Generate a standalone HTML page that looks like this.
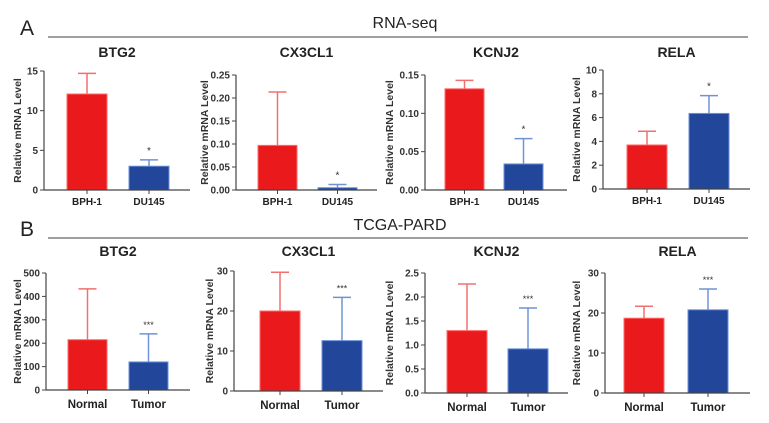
<!DOCTYPE html>
<html><head><meta charset="utf-8"><style>
body{margin:0;background:#fff;}
svg{display:block;font-family:"Liberation Sans",Arial,sans-serif;}
</style></head><body>
<svg id="fig" width="769" height="423" viewBox="0 0 769 423">
<text x="20" y="35" font-size="21" fill="#222">A</text>
<line x1="48" y1="37" x2="748" y2="37" stroke="#666" stroke-width="1.2"/>
<text x="405" y="28" font-size="16" fill="#222" text-anchor="middle">RNA-seq</text>
<text x="20" y="236" font-size="21" fill="#222">B</text>
<line x1="48" y1="238" x2="748" y2="238" stroke="#666" stroke-width="1.2"/>
<text x="400" y="230" font-size="16" fill="#222" text-anchor="middle">TCGA-PARD</text>
</svg>
<script>
// data
const titles=["BTG2","CX3CL1","KCNJ2","RELA","BTG2","CX3CL1","KCNJ2","RELA"];
const groupsA=["BPH-1","DU145"];
const groupsB=["Normal","Tumor"];
const means1=[12.1,0.097,0.132,3.7,215,20,1.3,18.7];
const means2=[3.0,0.005,0.034,6.35,120,12.6,0.92,20.8];
const upper1=[14.7,0.213,0.143,4.85,432,29.7,2.27,21.7];
const upper2=[3.8,0.012,0.067,7.85,240,23.4,1.77,26];
const yMax=[15,0.25,0.15,10,500,30,2.5,30];
const yTicks=[[0,5,10,15],[0,0.05,0.10,0.15,0.20,0.25],[0,0.05,0.10,0.15],[0,2,4,6,8,10],[0,100,200,300,400,500],[0,10,20,30],[0,0.5,1.0,1.5,2.0,2.5],[0,10,20,30]];
const tickLabels=[["0","5","10","15"],["0.00","0.05","0.10","0.15","0.20","0.25"],["0.00","0.05","0.10","0.15"],["0","2","4","6","8","10"],["0","100","200","300","400","500"],["0","10","20","30"],["0.0","0.5","1.0","1.5","2.0","2.5"],["0","10","20","30"]];
const sig=["*","*","*","*","***","***","***","***"];
// layout
const L=[
 {ax:44,tx:21,top:71,bot:190,xr:190,b1:67,b2:129,bw:40,ty:57},
 {ax:236,tx:208,top:75,bot:190,xr:377,b1:258,b2:318,bw:39,ty:57},
 {ax:425,tx:393,top:75,bot:190,xr:567,b1:445,b2:504,bw:39,ty:57},
 {ax:603,tx:580,top:70,bot:189,xr:750,b1:627,b2:689,bw:40,ty:57},
 {ax:46,tx:21,top:273,bot:390,xr:190,b1:68,b2:129,bw:39,ty:256},
 {ax:234,tx:213,top:271,bot:391,xr:383,b1:260,b2:322,bw:40,ty:256},
 {ax:425,tx:393,top:273,bot:393,xr:568,b1:447,b2:508,bw:40,ty:256},
 {ax:605,tx:580,top:273,bot:393,xr:750,b1:624,b2:688,bw:40,ty:256}];
const svg=document.getElementById('fig');
const NS='http://www.w3.org/2000/svg';
function mk(tag,a,txt){const e=document.createElementNS(NS,tag);for(const k in a)e.setAttribute(k,a[k]);if(txt!==undefined)e.textContent=txt;svg.appendChild(e);return e;}
for(let i=0;i<8;i++){
 const g=L[i];const y=v=>g.bot-(v/yMax[i])*(g.bot-g.top);
 const groups=i<4?groupsA:groupsB;
 let e=mk('text',{x:(g.ax+g.xr)/2,y:g.ty,'font-size':14,'font-weight':'bold','text-anchor':'middle',fill:'#222'},titles[i]);
 
 
 e=mk('text',{transform:`translate(${g.tx},${(g.top+g.bot)/2}) rotate(-90)`,'font-size':10.5,'font-weight':'bold','text-anchor':'middle',fill:'#333'},'Relative mRNA Level');
 
 
 const bars=[[g.b1,means1[i],upper1[i],'#ea1a1c','#ff6a6a','#f07070'],[g.b2,means2[i],upper2[i],'#22479a','#6b92d8','#6f93d6']];
 bars.forEach((b,j)=>{
  const cx=b[0]+g.bw/2;
  e=mk('line',{x1:cx,x2:cx,y1:y(b[1]),y2:y(b[2]),stroke:b[5],'stroke-width':1.5});
  
  
  e=mk('line',{x1:cx-9,x2:cx+9,y1:y(b[2]),y2:y(b[2]),stroke:b[5],'stroke-width':1.5});
  
  
  e=mk('rect',{x:b[0],y:y(b[1]),width:g.bw,height:g.bot-y(b[1]),fill:b[3],stroke:b[4],'stroke-width':1});
  
  
  e=mk('line',{x1:cx,x2:cx,y1:g.bot,y2:g.bot+4,stroke:'#444','stroke-width':1});
  
  
  e=mk('text',{x:cx,y:g.bot+(i<4?15:18),'font-size':i<4?10:11.5,'font-weight':'bold','text-anchor':'middle',fill:'#222'},groups[j]);
  
  
 });
 e=mk('text',{x:g.b2+g.bw/2,y:y(upper2[i])-6,'font-size':i<4?10:9,'text-anchor':'middle',fill:'#333'},sig[i]);
 
 
 e=mk('line',{x1:g.ax,x2:g.ax,y1:g.top,y2:g.bot,stroke:'#444','stroke-width':1.2});
 
 
 e=mk('line',{x1:g.ax,x2:g.xr,y1:g.bot,y2:g.bot,stroke:'#444','stroke-width':1.2});
 
 
 yTicks[i].forEach((t,k)=>{
  e=mk('line',{x1:g.ax-4,x2:g.ax,y1:y(t),y2:y(t),stroke:'#444','stroke-width':1});
  
  
  e=mk('text',{x:g.ax-6,y:y(t)+3.5,'font-size':10,'font-weight':'bold','text-anchor':'end',fill:'#333'},tickLabels[i][k]);
  
  
 });
}
</script>
</body></html>
